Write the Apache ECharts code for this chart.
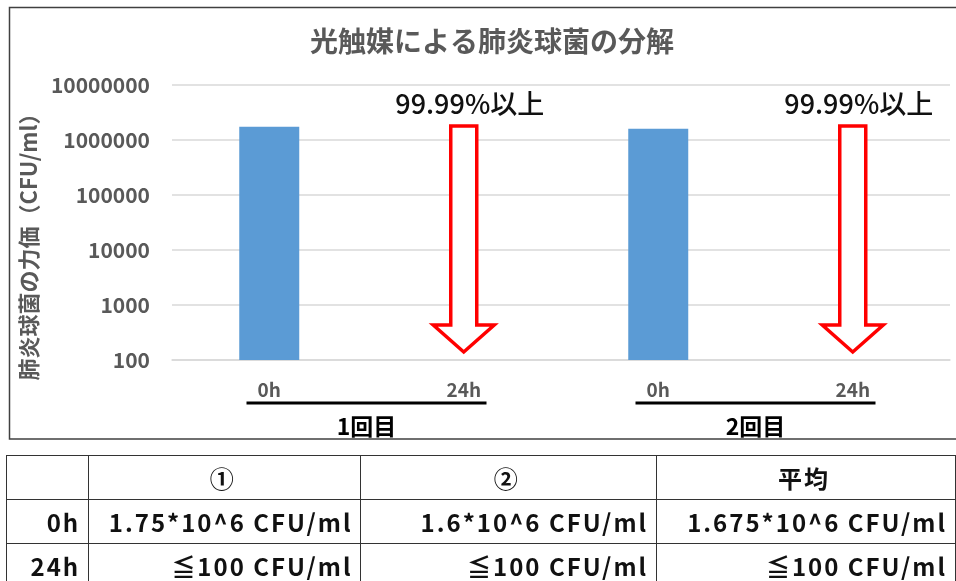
<!DOCTYPE html>
<html>
<head>
<meta charset="utf-8">
<script src="https://cdn.jsdelivr.net/npm/echarts@6/dist/echarts.min.js"></script>
<style>
  html, body { margin: 0; padding: 0; background: #fff; }
  #wrap { position: relative; width: 956px; height: 581px; overflow: hidden; }
  #chart { position: absolute; left: 0; top: 0; width: 956px; height: 581px; }
  table.res { position: absolute; left: 6px; top: 455px; border-collapse: collapse;
    font-family: "Noto Sans CJK JP", "Noto Sans", sans-serif; font-weight: bold; font-size: 24px;
    color: #111; letter-spacing: 2px; table-layout: fixed; }
  table.res td { border: 1.5px solid #333; padding: 0 8px 0 4px; white-space: nowrap; line-height: 1; }
  table.res tr { height: 44px; }
  table.res td.c { text-align: center; }
  table.res td.r { text-align: right; }
</style>
</head>
<body>
<div id="wrap">
  <div id="chart"></div>
  <table class="res" id="tbl"></table>
</div>
<script>
// ---- data ----
const titleText = '光触媒による肺炎球菌の分解';
const yAxisName = '肺炎球菌の力価（CFU/ml）';
const categories = ['0h', '24h', '0h', '24h'];
const groups = ['1回目', '2回目'];
const barValues = [1750000, 100, 1600000, 100];
const yTickLabels = ['100', '1000', '10000', '100000', '1000000', '10000000'];
const arrowCats = [1, 3];
const arrowFrom = [1800000, 1800000];
const arrowTo = [140, 140];
const arrowLabels = ['99.99%以上', '99.99%以上'];

const tableHeader = ['', '①', '②', '平均'];
const tableRowLabels = ['0h', '24h'];
const tableRow0h = ['1.75*10^6 CFU/ml', '1.6*10^6 CFU/ml', '1.675*10^6 CFU/ml'];
const tableRow24h = ['≦100 CFU/ml', '≦100 CFU/ml', '≦100 CFU/ml'];

// ---- table ----
(function buildTable() {
  const t = document.getElementById('tbl');
  const colW = [83, 273, 298, 300];
  const cg = document.createElement('colgroup');
  colW.forEach(w => { const c = document.createElement('col'); c.style.width = w + 'px'; cg.appendChild(c); });
  t.appendChild(cg);
  const h = document.createElement('tr');
  tableHeader.forEach(txt => { const td = document.createElement('td'); td.className = 'c'; td.textContent = txt; h.appendChild(td); });
  t.appendChild(h);
  [tableRow0h, tableRow24h].forEach((row, i) => {
    const tr = document.createElement('tr');
    const td0 = document.createElement('td'); td0.className = 'r'; td0.textContent = tableRowLabels[i]; tr.appendChild(td0);
    row.forEach(txt => { const td = document.createElement('td'); td.className = 'r'; td.textContent = txt; tr.appendChild(td); });
    t.appendChild(tr);
  });
})();

// ---- chart ----
const chart = echarts.init(document.getElementById('chart'), null, { renderer: 'canvas' });
const FONT = '"Noto Sans CJK JP", "Noto Sans", sans-serif';
const GRAY = '#595959';

const arrowData = arrowCats.map((c, i) => [c, arrowFrom[i], arrowTo[i], i]);

const option = {
  backgroundColor: '#fff',
  animation: false,
  title: {
    text: titleText, left: 487, top: 22, textAlign: 'center',
    textStyle: { fontFamily: FONT, fontSize: 28, fontWeight: 'bold', color: GRAY }
  },
  grid: { left: 172, right: 6, top: 85, bottom: 221 },
  xAxis: [{
    type: 'category', data: categories,
    axisLine: { show: true, lineStyle: { color: '#d9d9d9', width: 1.5 } },
    axisTick: { show: false },
    axisLabel: { margin: 20, fontFamily: FONT, fontSize: 19, fontWeight: 'bold', color: GRAY }
  }, {
    type: 'category', data: groups, position: 'bottom',
    axisLine: { show: false }, axisTick: { show: false }, splitLine: { show: false },
    axisLabel: { margin: 55, fontFamily: FONT, fontSize: 23, fontWeight: 'bold', color: '#000' }
  }],
  yAxis: {
    type: 'log', logBase: 10, min: 100, max: 10000000,
    name: yAxisName, nameLocation: 'middle', nameRotate: 90, nameGap: 131,
    nameTextStyle: { fontFamily: FONT, fontSize: 22, fontWeight: 'bold', color: GRAY, padding: [0, 38, 0, 0] },
    axisLine: { show: false }, axisTick: { show: false },
    splitLine: { show: true, lineStyle: { color: '#d9d9d9', width: 1.5 } },
    axisLabel: {
      margin: 22, fontFamily: FONT, fontSize: 21, fontWeight: 'bold', color: GRAY,
      formatter: v => yTickLabels[Math.round(Math.log10(v)) - 2] || ''
    }
  },
  series: [{
    type: 'bar', data: barValues, barWidth: 60,
    itemStyle: { color: '#5b9bd5' }
  }, {
    type: 'custom', data: arrowData, clip: false,
    encode: { x: 0, y: [1, 2] },
    renderItem: (params, api) => {
      const top = api.coord([api.value(0), api.value(1)]);
      const tip = api.coord([api.value(0), api.value(2)]);
      const cx = top[0], sw = 13, hw = 30.5, hh = 27;
      const ty = top[1], py = tip[1];
      return {
        type: 'group',
        children: [{
          type: 'polygon',
          shape: { points: [[cx - sw, ty], [cx + sw, ty], [cx + sw, py - hh], [cx + hw, py - hh], [cx, py], [cx - hw, py - hh], [cx - sw, py - hh]] },
          style: { fill: '#fff', stroke: '#ff0000', lineWidth: 3.5, lineJoin: 'miter' }
        }, {
          type: 'text',
          style: {
            text: arrowLabels[api.value(3)], x: cx + 6, y: ty - 22, textAlign: 'center', textVerticalAlign: 'middle',
            font: '500 27px ' + FONT, fill: '#111'
          }
        }]
      };
    }
  }]
};
chart.setOption(option);

// frame and group underlines
const g = [];
g.push({ type: 'rect', shape: { x: 9.5, y: 7.5, width: 960, height: 431.5 }, style: { fill: null, stroke: '#404040', lineWidth: 1.5 }, z: 100 });
groups.forEach((name, i) => {
  const p = chart.convertToPixel({ xAxisIndex: 1 }, i);
  g.push({ type: 'line', shape: { x1: p - 120, y1: 403, x2: p + 120, y2: 403 }, style: { stroke: '#000', lineWidth: 3 }, z: 100 });
});
chart.setOption({ graphic: g });
</script>
</body>
</html>
